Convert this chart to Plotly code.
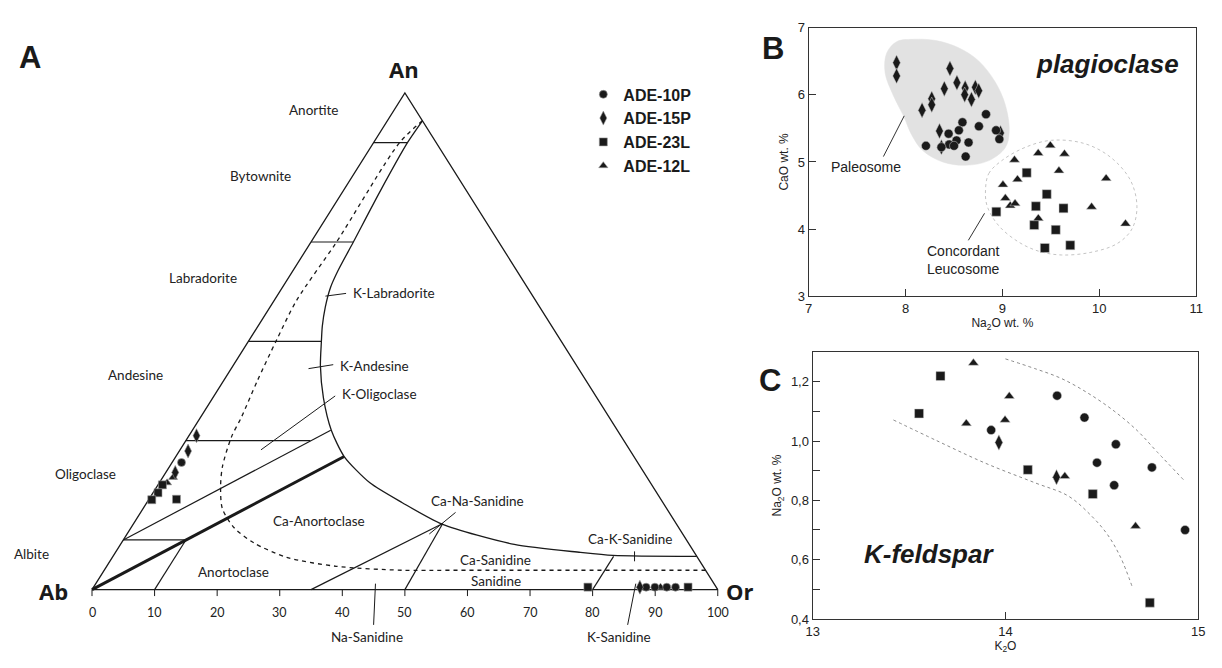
import plotly.graph_objects as go

# ---------------------------------------------------------------- panel A data
# Feldspar compositions in the An-Ab-Or triangle, given as (Or %, An %); Ab = 100 - Or - An
A_10P_OR = [1.5, 88.3, 89.7, 91.6, 93.0]
A_10P_AN = [25.6, 0.5, 0.5, 0.5, 0.5]
A_15P_OR = [1.2, 1.4, 1.5, 87.3]
A_15P_AN = [31.0, 27.9, 23.6, 0.5]
A_23L_OR = [0.7, 0.8, 0.5, 4.4, 79.0, 95.0]
A_23L_AN = [21.1, 19.5, 18.1, 18.2, 0.5, 0.5]
A_12L_OR = [1.65, 1.25, 90.6]
A_12L_AN = [22.6, 21.5, 0.5]

# Solid solvus curve and dashed curve (Or %, An %)
SOLVUS_OR = [5.6, 5.41, 5.95, 6.77, 7.2, 7.7, 8.83, 10.3, 11.75, 13.95, 17.68, 22.19, 26.9,
             33.66, 40.84, 49.33, 62.93, 74.3, 79.8, 93.3]
SOLVUS_AN = [94.4, 90.0, 80.0, 69.9, 64.2, 60.8, 56.9, 53.0, 49.8, 45.1, 38.6, 32.1, 26.8,
             21.5, 17.5, 13.2, 9.1, 7.5, 6.9, 6.7]
DASHED_OR = [5.6, 4.15, 4.08, 3.57, 4.35, 5.42, 6.53, 6.92, 8.45, 10.1, 12.68, 16.55,
             21.18, 27.87, 36.66, 47.63, 55.63, 96.1]
DASHED_AN = [94.4, 90.0, 69.9, 58.3, 50.4, 41.9, 34.6, 30.7, 24.8, 20.9, 16.3, 12.4,
             9.4, 6.5, 4.7, 3.9, 3.9, 3.9]

# Straight field boundaries: ((Or, An), (Or, An))
BOUNDARIES = [
    ((0, 90), (5.41, 90)),
    ((0, 70), (6.77, 70)),
    ((0, 50), (11.75, 50)),
    ((0, 30), (19.9, 30)),
    ((0, 10), (10.0, 10)),
    ((0, 10), (22.1, 32.1)),
    ((10, 0), (10.0, 10)),
    ((35, 0), (49.4, 13.3)),
    ((50, 0), (49.4, 13.3)),
    ((80, 0), (80, 6.7)),
]
THICK_BOUNDARY = ((0, 0), (26.9, 26.8))
TRIANGLE_OR = [0, 100, 0, 0]
TRIANGLE_AN = [0, 0, 100, 0]
BASE_TICKS = list(range(0, 101, 10))

# Field names: (text, position along Ab-Or base, An height, anchor)
FIELD_LABELS = [
    ("Anortite", 35.4, 96.6, "center"),
    ("Bytownite", 26.9, 83.3, "center"),
    ("Labradorite", 17.7, 62.8, "center"),
    ("K-Labradorite", 41.4, 59.8, "left"),
    ("Andesine", 6.9, 43.3, "center"),
    ("K-Andesine", 39.3, 45.1, "left"),
    ("K-Oligoclase", 39.6, 39.4, "left"),
    ("Oligoclase", -1.1, 23.2, "center"),
    ("Albite", -9.6, 7.1, "center"),
    ("Ca-Anortoclase", 36.2, 13.8, "center"),
    ("Anortoclase", 22.6, 3.5, "center"),
    ("Ca-Na-Sanidine", 61.6, 17.9, "center"),
    ("Ca-K-Sanidine", 86.1, 10.2, "center"),
    ("Ca-Sanidine", 64.4, 5.9, "center"),
    ("Sanidine", 64.6, 1.8, "center"),
    ("Na-Sanidine", 43.9, -9.6, "center"),
    ("K-Sanidine", 84.2, -9.6, "center"),
]
# Leader lines in the same base/height frame
LEADERS = [
    ((37.3, 59.1), (40.6, 59.65)),
    ((34.6, 44.5), (38.55, 45.3)),
    ((27.0, 28.15), (38.86, 39.0)),
    ((53.9, 11.2), (58.1, 15.55)),
    ((86.7, 7.7), (86.7, 5.7)),
    ((45.3, 1.2), (45.0, -7.1)),
    ((86.9, 1.2), (85.6, -7.1)),
]

# ---------------------------------------------------------------- panel B data (plagioclase)
B_10P_NA = [8.83, 8.587, 8.55, 8.757, 8.934, 8.968, 8.444, 8.526, 8.45, 8.50, 8.37, 8.21, 8.65, 8.62]
B_10P_CA = [5.71, 5.59, 5.47, 5.53, 5.47, 5.34, 5.42, 5.32, 5.26, 5.24, 5.22, 5.24, 5.29, 5.08]
B_15P_NA = [7.907, 7.907, 8.458, 8.53, 8.40, 8.615, 8.72, 8.755, 8.61, 8.68, 8.27, 8.27, 8.17, 8.35, 8.37, 8.98]
B_15P_CA = [6.476, 6.28, 6.39, 6.18, 6.09, 6.10, 6.11, 6.06, 6.00, 5.93, 5.94, 5.85, 5.77, 5.46, 5.22, 5.43]
B_23L_NA = [9.25, 9.457, 9.345, 9.63, 8.937, 9.328, 9.55, 9.437, 9.70]
B_23L_CA = [4.84, 4.52, 4.34, 4.31, 4.26, 4.06, 3.99, 3.72, 3.76]
B_12L_NA = [9.494, 9.369, 9.64, 9.124, 9.583, 9.155, 10.07, 9.005, 9.03, 9.08, 9.13, 9.92, 9.37, 10.27]
B_12L_CA = [5.245, 5.13, 5.12, 5.03, 4.87, 4.74, 4.755, 4.66, 4.46, 4.35, 4.38, 4.33, 4.16, 4.08]

PALEOSOME_NA = [7.788, 7.805, 7.907, 8.077, 8.315, 8.553, 8.757, 8.927, 9.03, 9.07, 9.03, 8.86,
                8.62, 8.383, 8.179, 8.06, 7.982, 7.873, 7.788]
PALEOSOME_CA = [6.33, 6.62, 6.79, 6.825, 6.806, 6.695, 6.5, 6.185, 5.846, 5.458, 5.216, 5.02,
                4.95, 5.0, 5.167, 5.41, 5.676, 5.99, 6.33]
LEUCOSOME_NA = [8.825, 8.859, 8.995, 9.233, 9.505, 9.845, 10.116, 10.32, 10.388, 10.337, 10.184,
                9.913, 9.607, 9.369, 9.165, 8.961, 8.842, 8.825]
LEUCOSOME_CA = [4.585, 4.828, 5.022, 5.216, 5.322, 5.274, 5.07, 4.73, 4.343, 4.004, 3.785,
                3.655, 3.616, 3.674, 3.81, 4.052, 4.343, 4.585]

# ---------------------------------------------------------------- panel C data (K-feldspar)
C_10P_K = [14.268, 13.926, 14.41, 14.573, 14.475, 14.76, 14.564, 14.932]
C_10P_NA = [1.153, 1.037, 1.079, 0.989, 0.927, 0.911, 0.851, 0.70]
C_15P_K = [13.966, 14.265]
C_15P_NA = [0.995, 0.878]
C_23L_K = [13.663, 13.552, 14.116, 14.453, 14.749]
C_23L_NA = [1.219, 1.093, 0.903, 0.821, 0.455]
C_12L_K = [13.834, 14.02, 13.797, 13.998, 14.308, 14.675]
C_12L_NA = [1.263, 1.151, 1.059, 1.071, 0.881, 0.713]

C_UPPER_K = [14.0, 14.154, 14.29, 14.427, 14.564, 14.684, 14.786, 14.923]
C_UPPER_NA = [1.277, 1.244, 1.211, 1.162, 1.101, 1.035, 0.964, 0.870]
C_LOWER_K = [13.419, 13.641, 13.897, 14.154, 14.325, 14.444, 14.53, 14.598, 14.658]
C_LOWER_NA = [1.071, 1.002, 0.925, 0.859, 0.815, 0.749, 0.684, 0.607, 0.508]

C_YTICKS = [0.4, 0.6, 0.8, 1.0, 1.2]
C_YTICKTEXT = ["0,4", "0,6", "0,8", "1,0", "1,2"]

SAMPLES = ["ADE-10P", "ADE-15P", "ADE-23L", "ADE-12L"]

# ---------------------------------------------------------------- styling
W, H = 1222, 668
INK = "#1a1a1a"
ARIAL = "Liberation Sans, Arial, sans-serif"
CALIB = "Lato, Open Sans, sans-serif"
SYMBOLS = {"ADE-10P": ("circle", 9), "ADE-15P": ("diamond-tall", 11),
           "ADE-23L": ("square", 9), "ADE-12L": ("triangle-up", 9)}

# pixel geometry of the triangle: Ab vertex and scale per composition unit
AB_PX, BASE_PY, SX, SY = 86.0, 596.0, 6.33, 5.08


def to_xy(or_vals, an_vals):
    """Project (Or, An) compositions to base/height coordinates of the triangle."""
    return [o + a / 2.0 for o, a in zip(or_vals, an_vals)], list(an_vals)


fig = go.Figure()

# triangle outline
tx, ty = to_xy(TRIANGLE_OR, TRIANGLE_AN)
fig.add_trace(go.Scatter(x=tx, y=ty, mode="lines", line=dict(color=INK, width=1.3),
                         showlegend=False, hoverinfo="skip", xaxis="x", yaxis="y"))

# straight boundaries (drawn as one trace with gaps)
bx, by = [], []
for (o1, a1), (o2, a2) in BOUNDARIES:
    xs, ys = to_xy([o1, o2], [a1, a2])
    bx += xs + [None]
    by += ys + [None]
fig.add_trace(go.Scatter(x=bx, y=by, mode="lines", line=dict(color=INK, width=1.2),
                         showlegend=False, hoverinfo="skip", xaxis="x", yaxis="y"))
xs, ys = to_xy([THICK_BOUNDARY[0][0], THICK_BOUNDARY[1][0]],
               [THICK_BOUNDARY[0][1], THICK_BOUNDARY[1][1]])
fig.add_trace(go.Scatter(x=xs, y=ys, mode="lines", line=dict(color=INK, width=3),
                         showlegend=False, hoverinfo="skip", xaxis="x", yaxis="y"))

# solvus and dashed curves
xs, ys = to_xy(SOLVUS_OR, SOLVUS_AN)
fig.add_trace(go.Scatter(x=xs, y=ys, mode="lines",
                         line=dict(color=INK, width=1.3, shape="spline", smoothing=0.7),
                         showlegend=False, hoverinfo="skip", xaxis="x", yaxis="y"))
xs, ys = to_xy(DASHED_OR, DASHED_AN)
fig.add_trace(go.Scatter(x=xs, y=ys, mode="lines",
                         line=dict(color=INK, width=1.3, dash="4px,4px", shape="spline", smoothing=0.8),
                         showlegend=False, hoverinfo="skip", xaxis="x", yaxis="y"))

# leader lines
lx, ly = [], []
for (x1, y1), (x2, y2) in LEADERS:
    lx += [x1, x2, None]
    ly += [y1, y2, None]
fig.add_trace(go.Scatter(x=lx, y=ly, mode="lines", line=dict(color=INK, width=1),
                         showlegend=False, hoverinfo="skip", xaxis="x", yaxis="y"))

# base axis ticks
kx, ky = [], []
for t in BASE_TICKS:
    kx += [t, t, None]
    ky += [0, -1.3, None]
fig.add_trace(go.Scatter(x=kx, y=ky, mode="lines", line=dict(color=INK, width=1),
                         showlegend=False, hoverinfo="skip", xaxis="x", yaxis="y"))

# samples in the triangle (these carry the legend)
a_sets = {"ADE-10P": (A_10P_OR, A_10P_AN), "ADE-15P": (A_15P_OR, A_15P_AN),
          "ADE-23L": (A_23L_OR, A_23L_AN), "ADE-12L": (A_12L_OR, A_12L_AN)}
for name in ["ADE-12L", "ADE-23L", "ADE-10P", "ADE-15P"]:
    o, a = a_sets[name]
    xs, ys = to_xy(o, a)
    sym, size = SYMBOLS[name]
    fig.add_trace(go.Scatter(x=xs, y=ys, mode="markers", name="<b>%s</b>" % name,
                             legendgroup=name, legendrank=SAMPLES.index(name),
                             marker=dict(symbol=sym, size=size - 1, color=INK,
                                         line=dict(width=0.6, color="#999")),
                             xaxis="x", yaxis="y"))

# ---------------------------------------------------------------- panel B
fig.add_trace(go.Scatter(x=PALEOSOME_NA, y=PALEOSOME_CA, mode="lines", fill="toself",
                         fillcolor="#e2e2e2", line=dict(color="#e2e2e2", width=0.5, shape="spline"),
                         showlegend=False, hoverinfo="skip", xaxis="x2", yaxis="y2"))
fig.add_trace(go.Scatter(x=LEUCOSOME_NA, y=LEUCOSOME_CA, mode="lines",
                         line=dict(color="#c4c4c4", width=1, dash="dot", shape="spline"),
                         showlegend=False, hoverinfo="skip", xaxis="x2", yaxis="y2"))
b_sets = {"ADE-10P": (B_10P_NA, B_10P_CA), "ADE-15P": (B_15P_NA, B_15P_CA),
          "ADE-23L": (B_23L_NA, B_23L_CA), "ADE-12L": (B_12L_NA, B_12L_CA)}
for name in ["ADE-15P", "ADE-10P", "ADE-23L", "ADE-12L"]:
    xv, yv = b_sets[name]
    sym, size = SYMBOLS[name]
    fig.add_trace(go.Scatter(x=xv, y=yv, mode="markers", name=name, legendgroup=name,
                             showlegend=False,
                             marker=dict(symbol=sym, size=size, color=INK,
                                         line=dict(width=0.5, color="#cfcfcf")),
                             xaxis="x2", yaxis="y2"))
fig.add_trace(go.Scatter(x=[7.771, 7.986, None, 8.648, 8.815],
                         y=[5.08, 5.686, None, 3.834, 4.236], mode="lines",
                         line=dict(color="#333", width=1), showlegend=False,
                         hoverinfo="skip", xaxis="x2", yaxis="y2"))

# ---------------------------------------------------------------- panel C
fig.add_trace(go.Scatter(x=C_UPPER_K, y=C_UPPER_NA, mode="lines",
                         line=dict(color="#8a8a8a", width=1, dash="dot", shape="spline"),
                         showlegend=False, hoverinfo="skip", xaxis="x3", yaxis="y3"))
fig.add_trace(go.Scatter(x=C_LOWER_K, y=C_LOWER_NA, mode="lines",
                         line=dict(color="#8a8a8a", width=1, dash="dot", shape="spline"),
                         showlegend=False, hoverinfo="skip", xaxis="x3", yaxis="y3"))
c_sets = {"ADE-10P": (C_10P_K, C_10P_NA), "ADE-15P": (C_15P_K, C_15P_NA),
          "ADE-23L": (C_23L_K, C_23L_NA), "ADE-12L": (C_12L_K, C_12L_NA)}
for name in SAMPLES:
    xv, yv = c_sets[name]
    sym, size = SYMBOLS[name]
    fig.add_trace(go.Scatter(x=xv, y=yv, mode="markers", name=name, legendgroup=name,
                             showlegend=False,
                             marker=dict(symbol=sym, size=size, color=INK,
                                         line=dict(width=0.5, color="#cfcfcf")),
                             xaxis="x3", yaxis="y3"))

# ---------------------------------------------------------------- annotations
ann = []
for text, x, y, anchor in FIELD_LABELS:
    ann.append(dict(x=x, y=y, xref="x", yref="y", text=text, showarrow=False,
                    xanchor=anchor, yanchor="middle",
                    font=dict(family=CALIB, size=13.5, color="#222")))
for t in BASE_TICKS:
    ann.append(dict(x=t, y=-4.6, xref="x", yref="y", text=str(t), showarrow=False,
                    xanchor="center", yanchor="middle",
                    font=dict(family=CALIB, size=12.5, color="#222")))
for text, x, y in [("An", 49.9, 104.9), ("Ab", -6.2, -0.3), ("Or", 103.6, -0.3)]:
    ann.append(dict(x=x, y=y, xref="x", yref="y", text="<b>%s</b>" % text, showarrow=False,
                    xanchor="center", yanchor="middle",
                    font=dict(family="Open Sans, sans-serif", size=22, color=INK)))

# panel letters
for text, px, py in [("A", 23, 52), ("B", 775, 42), ("C", 772, 382)]:
    ann.append(dict(x=px / W, y=1 - py / H, xref="paper", yref="paper", text="<b>%s</b>" % text,
                    showarrow=False, xanchor="center", yanchor="middle",
                    font=dict(family=ARIAL, size=31, color=INK)))

# panel B / C texts
ann += [
    dict(x=10.08, y=6.45, xref="x2", yref="y2", text="<b><i>plagioclase</i></b>", showarrow=False,
         font=dict(family=ARIAL, size=26, color=INK)),
    dict(x=7.21, y=4.925, xref="x2", yref="y2", text="Paleosome", showarrow=False,
         xanchor="left", font=dict(family=ARIAL, size=14, color="#222")),
    dict(x=8.196, y=3.54, xref="x2", yref="y2", text="Concordant<br>Leucosome", showarrow=False,
         xanchor="left", align="left", font=dict(family=ARIAL, size=14, color="#222")),
    dict(x=13.603, y=0.618, xref="x3", yref="y3", text="<b><i>K-feldspar</i></b>", showarrow=False,
         font=dict(family=ARIAL, size=26, color=INK)),
]

# ---------------------------------------------------------------- layout
a_x0 = -AB_PX / SX
a_x1 = (0.62 * W - AB_PX) / SX
a_y0 = -(H - BASE_PY) / SY
a_y1 = BASE_PY / SY

frame = dict(showline=True, linecolor="#333", linewidth=1.2, mirror=True, ticks="inside",
             tickcolor="#333", tickwidth=1.2, ticklen=7, showgrid=False, zeroline=False,
             tickfont=dict(family=ARIAL, size=13, color="#222"))

fig.update_layout(
    width=W, height=H, margin=dict(l=0, r=0, t=0, b=0),
    paper_bgcolor="white", plot_bgcolor="white",
    xaxis=dict(domain=[0, 0.62], range=[a_x0, a_x1], visible=False),
    yaxis=dict(domain=[0, 1], range=[a_y0, a_y1], visible=False),
    xaxis2=dict(domain=[811 / W, 1203 / W], range=[7, 11], dtick=1, anchor="y2",
                title=dict(text="Na<sub>2</sub>O wt. %", standoff=2,
                           font=dict(family=ARIAL, size=12, color="#222")), **frame),
    yaxis2=dict(domain=[1 - 296 / H, 1 - 21 / H], range=[3, 7], dtick=1, anchor="x2",
                title=dict(text="CaO wt. %", standoff=6,
                           font=dict(family=ARIAL, size=12, color="#222")), **frame),
    xaxis3=dict(domain=[815 / W, 1205 / W], range=[13, 15], dtick=1, anchor="y3",
                title=dict(text="K<sub>2</sub>O", standoff=2,
                           font=dict(family=ARIAL, size=12, color="#222")), **frame),
    yaxis3=dict(domain=[1 - 626 / H, 1 - 353 / H], range=[0.4, 1.3], anchor="x3",
                tickvals=C_YTICKS, ticktext=C_YTICKTEXT,
                minor=dict(dtick=0.1, tick0=0.4, ticks="inside", ticklen=7, tickwidth=1.2,
                           tickcolor="#333", showgrid=False),
                title=dict(text="Na<sub>2</sub>O wt. %", standoff=6,
                           font=dict(family=ARIAL, size=12, color="#222")), **frame),
    showlegend=True,
    legend=dict(x=583 / W, y=1 - 72 / H, xanchor="left", yanchor="top",
                bgcolor="rgba(0,0,0,0)", tracegroupgap=0, itemsizing="trace",
                font=dict(family=ARIAL, size=16, color=INK)),
    annotations=ann,
)

fig.write_html("out.html")
